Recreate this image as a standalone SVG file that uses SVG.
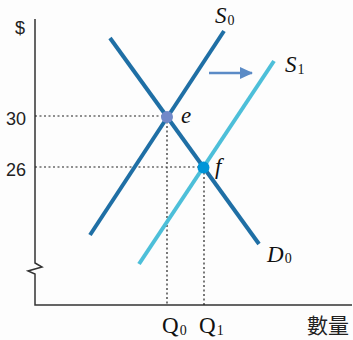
<svg xmlns="http://www.w3.org/2000/svg" width="353" height="340" viewBox="0 0 353 340">
<style>
.ax{fill:none;stroke:#333;stroke-width:1.5}
.dot{fill:none;stroke:#222;stroke-width:1.2;stroke-dasharray:2 2.5}
.dark{stroke:#1f6fa5;stroke-width:4;stroke-linecap:butt}
.light{stroke:#4dbfd9;stroke-width:4}
.it{font-family:"Liberation Serif",serif;font-style:italic;font-size:23px;fill:#111}
.up{font-family:"Liberation Serif",serif;font-size:23px;fill:#111}
.sub{font-family:"Liberation Serif",serif;font-style:normal;font-size:14px}
.num{font-family:"Liberation Sans",Arial,sans-serif;font-size:18px;fill:#222}
.cjk{font-family:"Liberation Serif","Noto Sans CJK TC",serif;font-size:21px;fill:#222}
</style>
<defs>
<marker id="ah" markerWidth="13" markerHeight="12" refX="12" refY="6" orient="auto" markerUnits="userSpaceOnUse">
<path d="M0,0 L13,6 L0,12 Z" fill="#5b8bc6"/>
</marker>
</defs>
<rect width="353" height="340" fill="#fdfdfd"/>
<g id="axes">
<path class="ax" d="M35,19 V263 L42,267 L28,271 L35,274 V305 H352"/>
</g>
<g id="connectors">
<path class="dot" d="M35,116 H167 M35,167 H204 M167,117 V305 M204,168 V305"/>
<line class="dark" x1="110" y1="38" x2="259" y2="244"/>
<line class="dark" x1="90" y1="235" x2="224" y2="31"/>
<line class="light" x1="139" y1="264" x2="274" y2="61"/>
<line x1="209" y1="73" x2="252" y2="73" stroke="#5b8bc6" stroke-width="2.5" marker-end="url(#ah)"/>
</g>
<g id="node-e"><circle cx="167" cy="117" r="6" fill="#7189c9"/><text class="it" x="181" y="123">e</text></g>
<g id="node-f"><circle cx="203.5" cy="167.5" r="6" fill="#0095d8"/><text class="it" x="215" y="174">f</text></g>
<g id="label-s0"><text class="it" x="215" y="23">S<tspan class="sub" dx="1" dy="2">0</tspan></text></g>
<g id="label-s1"><text class="it" x="285" y="72">S<tspan class="sub" dx="1" dy="2">1</tspan></text></g>
<g id="label-d0"><text class="it" x="267" y="262">D<tspan class="sub" dx="1" dy="1">0</tspan></text></g>
<g id="ticks">
<text class="num" x="15" y="34">$</text>
<text class="num" x="6" y="125">30</text>
<text class="num" x="6" y="176">26</text>
<text class="up" x="162" y="333">Q<tspan class="sub" dx="1" dy="2">0</tspan></text>
<text class="up" x="199" y="333">Q<tspan class="sub" dx="1" dy="2">1</tspan></text>
<text class="cjk" x="307" y="333">數量</text>
</g>
</svg>
